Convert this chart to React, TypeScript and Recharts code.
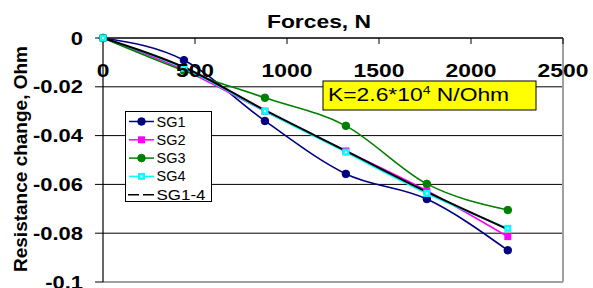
import React from 'react';
import { LineChart, Line, XAxis, YAxis, CartesianGrid, Legend, ReferenceLine } from 'recharts';

const forces = [0, 440, 880, 1320, 1760, 2200];
const sg1 = [0, -0.0091, -0.034, -0.0557, -0.066, -0.087];
const sg2 = [0, -0.0131, -0.03, -0.0463, -0.0626, -0.0814];
const sg3 = [0, -0.0134, -0.0245, -0.036, -0.0598, -0.0705];
const sg4 = [0, -0.0124, -0.03, -0.0468, -0.0637, -0.078];
const sgAll = [0, -0.012, -0.0296, -0.0463, -0.0631, -0.0784];
const seriesNames = ['SG1', 'SG2', 'SG3', 'SG4', 'SG1-4'];
const xTicks = [0, 500, 1000, 1500, 2000, 2500];
const yTicks = [0, -0.02, -0.04, -0.06, -0.08, -0.1];
const titleText = 'Forces, N';
const yLabelText = 'Resistance change, Ohm';

const data = forces.map((f, i) => ({
  force: f,
  SG1: sg1[i],
  SG2: sg2[i],
  SG3: sg3[i],
  SG4: sg4[i],
  'SG1-4': sgAll[i],
}));

const FONT = 'Arial, "Liberation Sans", sans-serif';
const STRETCH = 1.27;

const styles: Record<string, { color: string; marker: 'circle' | 'square' | 'squareHollow' | 'none'; dash?: string; legendW: number }> = {
  SG1: { color: '#000080', marker: 'circle', legendW: 29 },
  SG2: { color: '#FF00FF', marker: 'square', legendW: 29 },
  SG3: { color: '#008000', marker: 'circle', legendW: 29 },
  SG4: { color: '#00FFFF', marker: 'squareHollow', legendW: 29 },
  'SG1-4': { color: '#000000', marker: 'none', dash: '11 4', legendW: 49 },
};

const renderMarker = (name: string, cx: number, cy: number, key?: any) => {
  const s = styles[name];
  if (s.marker === 'circle') return <circle key={key} cx={cx} cy={cy} r={3.8} fill={s.color} stroke={s.color} />;
  if (s.marker === 'square') return <rect key={key} x={cx - 3.5} y={cy - 3.5} width={7} height={7} fill={s.color} />;
  if (s.marker === 'squareHollow')
    return (
      <g key={key}>
        <rect x={cx - 3.5} y={cy - 3.5} width={7} height={7} fill={s.color} />
        <rect x={cx - 1} y={cy - 1} width={2} height={2} fill="#ffffff" />
      </g>
    );
  return <g key={key} />;
};

const XTick = (props: any) => {
  const { x, y, payload } = props;
  const v = payload.value;
  return (
    <g>
      {v !== 0 && <line x1={x} y1={y} x2={x} y2={y + 6} stroke="#000" strokeWidth={1} />}
      <g transform={`translate(${x},${y + 39}) scale(${STRETCH},1)`}>
        <text x={0} y={0} textAnchor="middle" fontFamily={FONT} fontWeight="bold" fontSize={18} fill="#000">
          {String(v)}
        </text>
      </g>
    </g>
  );
};

const YTick = (props: any) => {
  const { x, y, payload } = props;
  const v = payload.value;
  return (
    <g transform={`translate(${x},${y + 6.5}) scale(1.22,1)`}>
      <text x={0} y={0} textAnchor="end" fontFamily={FONT} fontWeight="bold" fontSize={18} fill="#000">
        {String(v)}
      </text>
    </g>
  );
};

const LegendContent = (props: any) => {
  const payload = props.payload || [];
  const items = seriesNames.map((n) => payload.find((p: any) => p.value === n || p.dataKey === n)).filter(Boolean);
  return (
    <div
      style={{
        width: 87,
        height: 91,
        boxSizing: 'border-box',
        border: '1px solid #000',
        background: '#fff',
      }}
    >
      <svg width={85} height={89} style={{ display: 'block' }}>
        {items.map((p: any, i: number) => {
          const name = p.value;
          const s = styles[name];
          const cy = 9.5 + i * 18.3;
          return (
            <g key={name}>
              {s.marker === 'none' ? (
                <line x1={2} x2={28} y1={cy} y2={cy} stroke={s.color} strokeWidth={1.5} strokeDasharray={s.dash} />
              ) : (
                <line x1={3} x2={28} y1={cy} y2={cy} stroke={s.color} strokeWidth={1.5} />
              )}
              {renderMarker(name, 15.5, cy)}
              <text
                x={30.5}
                y={cy + 5}
                fontFamily={FONT}
                fontSize={14}
                fill="#000"
                textLength={s.legendW}
                lengthAdjust="spacingAndGlyphs"
              >
                {name}
              </text>
            </g>
          );
        })}
      </svg>
    </div>
  );
};

export default function App() {
  return (
    <div style={{ position: 'absolute', left: 0, top: 0, width: 593, height: 288, background: '#fff' }}>
      <LineChart width={593} height={288} data={data} margin={{ top: 0, right: 30, bottom: 6, left: 0 }}>
        <CartesianGrid vertical={false} stroke="#000" strokeWidth={1} />
        <XAxis
          dataKey="force"
          type="number"
          orientation="top"
          height={38}
          domain={[0, 2500]}
          ticks={xTicks}
          tickSize={0}
          tickMargin={0}
          tickLine={false}
          axisLine={{ stroke: '#000', strokeWidth: 1.2 }}
          tick={<XTick />}
          interval={0}
        />
        <YAxis
          type="number"
          width={103}
          domain={[-0.1, 0]}
          ticks={yTicks}
          tickSize={8}
          tickMargin={12}
          tickLine={{ stroke: '#000' }}
          axisLine={{ stroke: '#000', strokeWidth: 1.2 }}
          tick={<YTick />}
          interval={0}
        />
        <ReferenceLine y={-0.1} stroke="#a0a0a0" strokeWidth={2} />
        <ReferenceLine x={2500} stroke="#a0a0a0" strokeWidth={2} />
        {seriesNames.map((name) => {
          const s = styles[name];
          return (
            <Line
              key={name}
              dataKey={name}
              name={name}
              type="monotone"
              stroke={s.color}
              strokeWidth={name === 'SG1-4' ? 2 : 1.6}
              dot={s.marker === 'none' ? false : (p: any) => renderMarker(name, p.cx, p.cy, `${name}-${p.index}`)}
              activeDot={false}
              isAnimationActive={false}
            />
          );
        })}
        <Legend
          layout="vertical"
          align="center"
          verticalAlign="middle"
          content={<LegendContent />}
          wrapperStyle={{ left: 125, top: 111, width: 87, height: 91 }}
        />
      </LineChart>
      <svg
        width={593}
        height={288}
        style={{ position: 'absolute', left: 0, top: 0, pointerEvents: 'none' }}
      >
        <g transform={`translate(319,28) scale(${STRETCH},1)`}>
          <text x={0} y={0} textAnchor="middle" fontFamily={FONT} fontWeight="bold" fontSize={18} fill="#000">
            {titleText}
          </text>
        </g>
        <text
          x={0}
          y={0}
          transform="translate(27,159) rotate(-90)"
          textAnchor="middle"
          fontFamily={FONT}
          fontWeight="bold"
          fontSize={19}
          fill="#000"
        >
          {yLabelText}
        </text>
        <rect x={323} y={81} width={213} height={29} fill="#FFFF00" stroke="#000" strokeWidth={1} />
        <g transform={`translate(328,100.5) scale(${STRETCH},1)`}>
          <text x={0} y={0} fontFamily={FONT} fontSize={18} fill="#000">
            K=2.6*10
            <tspan dy={-7} fontSize={11}>4</tspan>
            <tspan dy={7}> N/Ohm</tspan>
          </text>
        </g>
      </svg>
    </div>
  );
}
